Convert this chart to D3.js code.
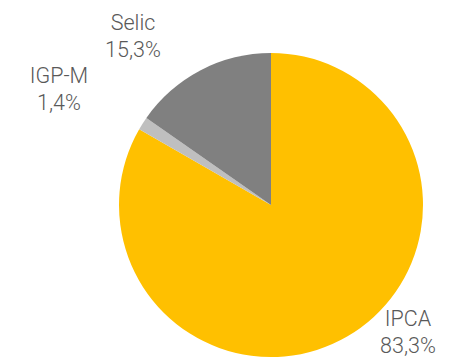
<!DOCTYPE html>
<html>
<head>
<meta charset="utf-8">
<script src="https://cdn.jsdelivr.net/npm/d3@7"></script>
<style>
  body { margin: 0; background: #fff; }
  svg { display: block; }
  .lbl { font-family: Roboto, sans-serif; font-weight: 300; font-size: 21.5px; fill: #595959; }
</style>
</head>
<body>
<div id="grafico"></div>
<script>
var indexadores = ['IPCA', 'IGP-M', 'Selic'];
var participacao = [83.3, 1.4, 15.3];
var cores = ['#FFC000', '#BFBFBF', '#808080'];

// posicao dos rotulos (x, y da primeira linha), como no excel
var rotulosPos = [[408, 326], [59, 83], [133, 30]];

var largura = 452, altura = 358;
var cx = 271, cy = 205, raio = 152;

var dados = indexadores.map(function(d, i) {
  return { nome: d, valor: participacao[i] };
});

var pie = d3.pie()
  .sort(null)
  .value(function(d) { return d.valor; });

var arc = d3.arc()
  .innerRadius(0)
  .outerRadius(raio);

var cor = d3.scaleOrdinal()
  .domain(indexadores)
  .range(cores);

var svg = d3.select('#grafico')
  .append('svg')
  .attr('width', largura)
  .attr('height', altura);

svg.append('g')
  .attr('transform', 'translate(' + cx + ',' + cy + ')')
  .selectAll('path')
  .data(pie(dados))
  .enter()
  .append('path')
  .attr('d', arc)
  .attr('fill', function(d) { return cor(d.data.nome); });

var fmt = function(v) { return v.toFixed(1).replace('.', ',') + '%'; };

var rot = svg.append('g')
  .selectAll('text')
  .data(dados)
  .enter()
  .append('text')
  .attr('class', 'lbl')
  .attr('text-anchor', 'middle')
  .attr('x', function(d, i) { return rotulosPos[i][0]; })
  .attr('y', function(d, i) { return rotulosPos[i][1]; });

rot.append('tspan').text(function(d) { return d.nome; });
rot.append('tspan')
  .attr('x', function(d, i) { return rotulosPos[i][0]; })
  .attr('dy', 27)
  .text(function(d) { return fmt(d.valor); });
</script>
</body>
</html>
